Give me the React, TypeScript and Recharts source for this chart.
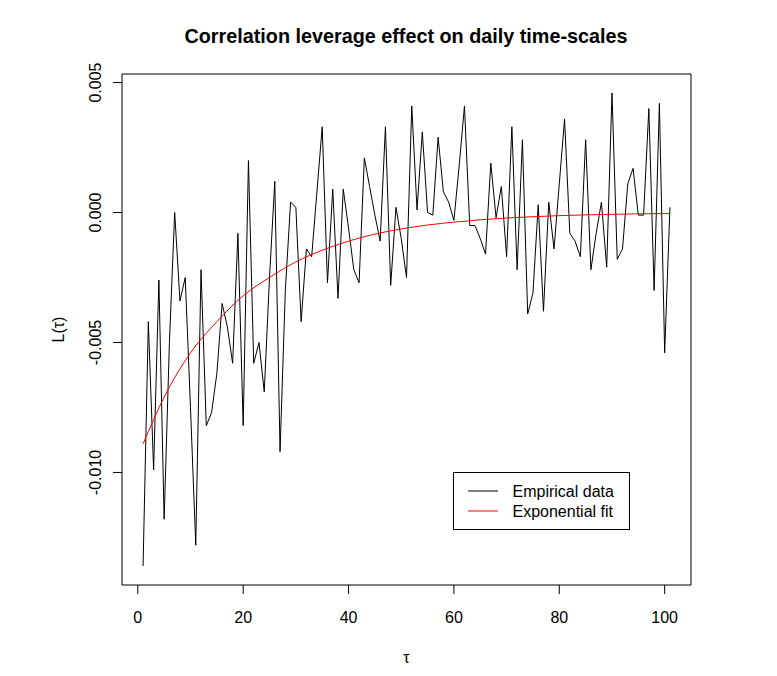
import React from 'react';
import { LineChart, Line, XAxis, YAxis, ReferenceArea, Legend, Label } from 'recharts';

// L(tau) for tau = 1..101
const empirical = [
  -0.0136, -0.0042, -0.0099, -0.0026, -0.0118, -0.005, 0.0, -0.0034, -0.0025, -0.0075,
  -0.0128, -0.0022, -0.0082, -0.0077, -0.0062, -0.0035, -0.0044, -0.0058, -0.0008, -0.0082,
  0.002, -0.0058, -0.005, -0.0069, -0.0025, 0.0012, -0.0092, -0.003, 0.0004, 0.0002,
  -0.0042, -0.0014, -0.0017, 0.0008, 0.0033, -0.0027, 0.0009, -0.0033, 0.0009, -0.0006,
  -0.0022, -0.0027, 0.0021, 0.001, -0.0001, -0.0011, 0.0033, -0.0028, 0.0002, -0.001,
  -0.0025, 0.0041, 0.0001, 0.0031, 0.0, -0.0001, 0.0029, 0.0008, 0.0004, -0.0003,
  0.0018, 0.0041, -0.0005, -0.0005, -0.001, -0.0016, 0.0019, -0.0002, 0.001, -0.0017,
  0.0033, -0.0022, 0.0028, -0.0039, -0.0031, 0.0003, -0.0038, 0.0004, -0.0014, 0.0011,
  0.0036, -0.0008, -0.0011, -0.0017, 0.0028, -0.0022, -0.0008, 0.0004, -0.0021, 0.0046,
  -0.0018, -0.0014, 0.0011, 0.0017, -0.0001, -0.0001, 0.004, -0.003, 0.0042, -0.0054,
  0.0002,
];

// exponential fit, read at a few tau values
const fitTau = [1, 5, 10, 15, 20, 25, 30, 35, 40, 45, 50, 55, 60, 65, 70, 75, 80, 85, 90, 95, 100, 101];
const fitValues = [
  -0.0089, -0.0071, -0.0054, -0.0042, -0.0032, -0.0025, -0.0019, -0.00145, -0.0011, -0.00083, -0.00063,
  -0.00048, -0.00037, -0.00028, -0.00021, -0.00016, -0.00012, -0.00009, -0.00007, -0.00005, -0.00004, -0.00004,
];

const xTicks = [0, 20, 40, 60, 80, 100];
const yTicks = [-0.01, -0.005, 0, 0.005];
const xDomain: [number, number] = [-3, 105];
const yDomain: [number, number] = [-0.01433, 0.00533];

const empiricalData = empirical.map((v, i) => ({ tau: i + 1, value: v }));
const fitData = fitTau.map((t, i) => ({ tau: t, value: fitValues[i] }));

const FONT = '"Liberation Sans", Arial, sans-serif';

const XTick = ({ x, payload }: any) => (
  <text x={x} y={623} textAnchor="middle" fontSize={16} fontFamily={FONT} fill="#000">
    {payload.value}
  </text>
);

const YTick = ({ y, payload }: any) => (
  <text
    x={101.5}
    y={y}
    transform={`rotate(-90, 101.5, ${y})`}
    textAnchor="middle"
    fontSize={16}
    fontFamily={FONT}
    fill="#000"
  >
    {Number(payload.value).toFixed(3)}
  </text>
);

const LegendBox = () => (
  <svg width={178} height={59} style={{ display: 'block' }}>
    <rect x={0.5} y={0.5} width={176} height={57} fill="#fff" stroke="#000" />
    <line x1={15} x2={45} y1={19} y2={19} stroke="#000" />
    <line x1={15} x2={45} y1={39} y2={39} stroke="red" />
    <text x={59.5} y={24.5} fontSize={16} fontFamily={FONT} fill="#000">
      Empirical data
    </text>
    <text x={59.5} y={44.5} fontSize={16} fontFamily={FONT} fill="#000">
      Exponential fit
    </text>
  </svg>
);

export default function App() {
  return (
    <div style={{ position: 'absolute', left: 0, top: 0, width: 777, height: 676, background: '#fff', fontFamily: FONT }}>
      <LineChart width={777} height={676} margin={{ top: 74, right: 86, bottom: 0, left: 0 }}>
        <ReferenceArea
          x1={xDomain[0]}
          x2={xDomain[1]}
          y1={yDomain[0]}
          y2={yDomain[1]}
          fill="none"
          stroke="#000"
          strokeWidth={1}
          ifOverflow="visible"
        />
        <XAxis
          dataKey="tau"
          type="number"
          domain={xDomain}
          allowDataOverflow
          ticks={xTicks}
          height={91}
          axisLine={false}
          tickLine={{ stroke: '#000' }}
          tickSize={9}
          tick={<XTick />}
          interval={0}
        >
          <Label
            content={({ viewBox }: any) => (
              <text
                x={viewBox.x + viewBox.width / 2}
                y={663}
                textAnchor="middle"
                fontSize={16}
                fontFamily={FONT}
                fill="#000"
              >
                τ
              </text>
            )}
          />
        </XAxis>
        <YAxis
          type="number"
          domain={yDomain}
          allowDataOverflow
          ticks={yTicks}
          width={122}
          axisLine={false}
          tickLine={{ stroke: '#000' }}
          tickSize={9}
          tick={<YTick />}
          interval={0}
        >
          <Label
            content={({ viewBox }: any) => {
              const cy = viewBox.y + viewBox.height / 2;
              return (
                <text
                  x={64}
                  y={cy}
                  transform={`rotate(-90, 64, ${cy})`}
                  textAnchor="middle"
                  fontSize={16}
                  fontFamily={FONT}
                  fill="#000"
                >
                  L(τ)
                </text>
              );
            }}
          />
        </YAxis>
        <Legend
          layout="vertical"
          align="center"
          verticalAlign="middle"
          wrapperStyle={{ left: 453, top: 472, width: 178, height: 59 }}
          content={() => <LegendBox />}
        />
        <Line
          data={empiricalData}
          dataKey="value"
          name="Empirical data"
          stroke="#000"
          strokeWidth={1}
          dot={false}
          type="linear"
          isAnimationActive={false}
        />
        <Line
          data={fitData}
          dataKey="value"
          name="Exponential fit"
          stroke="red"
          strokeWidth={1}
          dot={false}
          type="monotone"
          isAnimationActive={false}
        />
      </LineChart>
      <svg width={777} height={676} style={{ position: 'absolute', left: 0, top: 0, pointerEvents: 'none' }}>
        <text x={406} y={42.5} textAnchor="middle" fontSize={19.8} fontWeight="bold" fontFamily={FONT} fill="#000">
          Correlation leverage effect on daily time-scales
        </text>
      </svg>
    </div>
  );
}
